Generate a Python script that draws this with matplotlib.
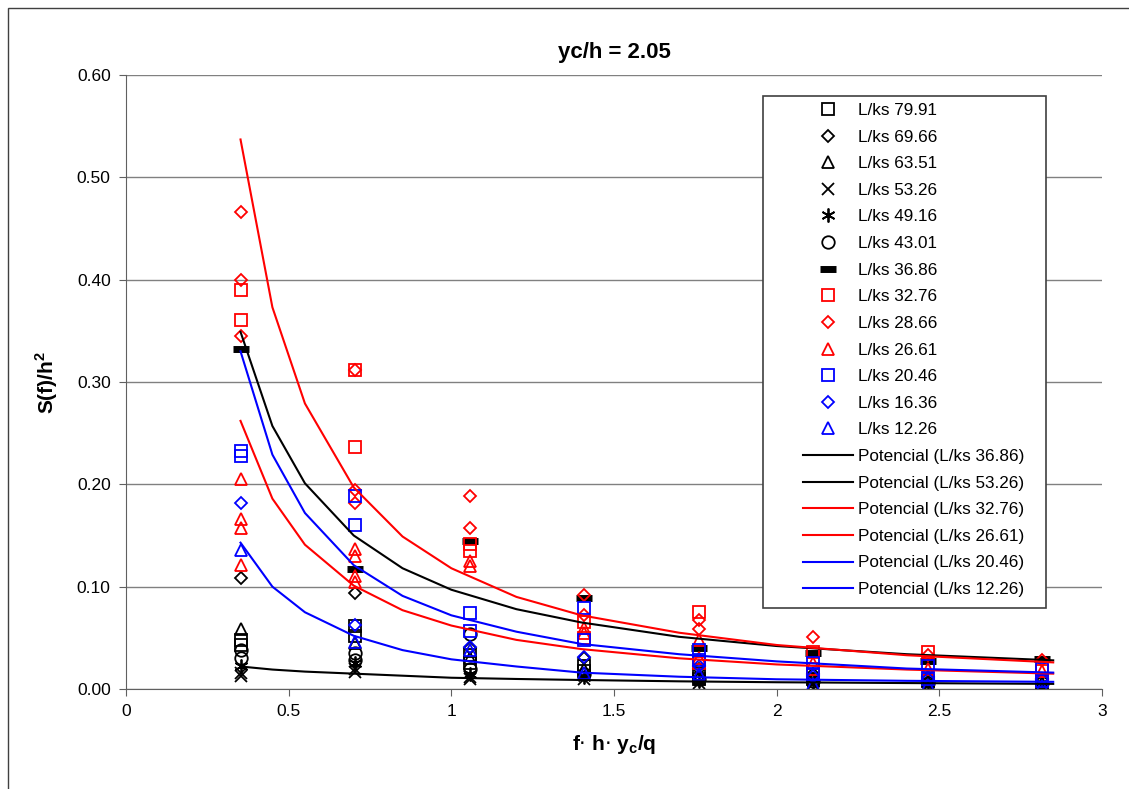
import matplotlib
matplotlib.use("Agg")
import matplotlib.pyplot as plt
from matplotlib.patches import Rectangle

plt.rcParams['font.family'] = ['Liberation Sans', 'DejaVu Sans']

# x positions of the measurement columns
xc = [0.352, 0.704, 1.056, 1.408, 1.76, 2.112, 2.464, 2.816]

# scatter series: (x, y) pairs per flow rate
s7991_x = [xc[0], xc[0], xc[1], xc[1], xc[2], xc[2], xc[3], xc[3], xc[4], xc[4], xc[5], xc[6], xc[7]]
s7991_y = [0.048, 0.043, 0.062, 0.052, 0.033, 0.025, 0.022, 0.018, 0.015, 0.010, 0.010, 0.008, 0.006]

s6966_x = xc
s6966_y = [0.108, 0.094, 0.040, 0.030, 0.020, 0.015, 0.012, 0.010]

s6351_x = xc
s6351_y = [0.059, 0.045, 0.030, 0.020, 0.012, 0.010, 0.008, 0.006]

s5326_x = [xc[0], xc[0], xc[1], xc[1], xc[2], xc[2], xc[3], xc[4], xc[5], xc[6], xc[7]]
s5326_y = [0.016, 0.013, 0.020, 0.017, 0.012, 0.010, 0.010, 0.006, 0.005, 0.004, 0.004]

s4916_x = xc
s4916_y = [0.022, 0.025, 0.015, 0.012, 0.008, 0.006, 0.005, 0.005]

s4301_x = [xc[0], xc[0], xc[1], xc[1], xc[2], xc[2], xc[3], xc[4], xc[5], xc[6], xc[7]]
s4301_y = [0.038, 0.030, 0.035, 0.028, 0.054, 0.020, 0.015, 0.010, 0.008, 0.006, 0.006]

s3686_x = xc
s3686_y = [0.332, 0.117, 0.145, 0.089, 0.040, 0.035, 0.027, 0.029]

s3276_x = [xc[0], xc[0], xc[1], xc[1], xc[2], xc[2], xc[3], xc[3], xc[4], xc[4], xc[5], xc[5], xc[6], xc[7]]
s3276_y = [0.390, 0.361, 0.312, 0.236, 0.142, 0.135, 0.065, 0.050, 0.075, 0.025, 0.036, 0.020, 0.036, 0.018]

s2866_x = [xc[0], xc[0], xc[0], xc[1], xc[1], xc[1], xc[2], xc[2], xc[3], xc[3], xc[4], xc[4], xc[5], xc[6], xc[7]]
s2866_y = [0.466, 0.400, 0.345, 0.312, 0.194, 0.182, 0.189, 0.157, 0.092, 0.072, 0.067, 0.059, 0.051, 0.033, 0.028]

s2661_x = [xc[0], xc[0], xc[0], xc[0], xc[1], xc[1], xc[1], xc[1], xc[2], xc[2], xc[3], xc[3], xc[4], xc[4], xc[5], xc[6], xc[7]]
s2661_y = [0.205, 0.166, 0.157, 0.121, 0.137, 0.130, 0.110, 0.105, 0.125, 0.120, 0.060, 0.055, 0.048, 0.030, 0.025, 0.020, 0.018]

s2046_x = [xc[0], xc[0], xc[1], xc[1], xc[2], xc[2], xc[3], xc[3], xc[4], xc[4], xc[5], xc[5], xc[6], xc[6], xc[7], xc[7]]
s2046_y = [0.233, 0.228, 0.189, 0.160, 0.074, 0.057, 0.079, 0.048, 0.038, 0.028, 0.025, 0.015, 0.022, 0.010, 0.020, 0.008]

s1636_x = xc
s1636_y = [0.182, 0.063, 0.041, 0.031, 0.022, 0.013, 0.010, 0.010]

s1226_x = xc
s1226_y = [0.136, 0.046, 0.038, 0.016, 0.015, 0.005, 0.004, 0.003]

# power trendlines ("Potencial")
trend_x = [0.352, 0.45, 0.55, 0.7, 0.85, 1.0, 1.2, 1.4, 1.7, 2.0, 2.4, 2.85]
trend_3686 = [0.349, 0.257, 0.201, 0.150, 0.118, 0.097, 0.078, 0.065, 0.051, 0.042, 0.034, 0.028]
trend_5326 = [0.022, 0.019, 0.017, 0.015, 0.013, 0.011, 0.0098, 0.0088, 0.0075, 0.0066, 0.0058, 0.005]
trend_3276 = [0.537, 0.373, 0.279, 0.197, 0.149, 0.118, 0.090, 0.072, 0.055, 0.043, 0.033, 0.026]
trend_2661 = [0.262, 0.186, 0.141, 0.101, 0.077, 0.062, 0.048, 0.039, 0.030, 0.024, 0.019, 0.015]
trend_2046 = [0.330, 0.229, 0.172, 0.121, 0.091, 0.072, 0.056, 0.044, 0.034, 0.027, 0.020, 0.016]
trend_1226 = [0.143, 0.100, 0.075, 0.052, 0.038, 0.029, 0.022, 0.016, 0.012, 0.0095, 0.008, 0.007]

W, H = 1129, 789
fig = plt.figure(figsize=(W / 100, H / 100), dpi=100)
ax = fig.add_axes([126 / W, 1 - 689 / H, (1102 - 126) / W, (689 - 75) / H])

# chart area border
fig.patches.append(Rectangle((8 / W, -0.01), 1.0, 1 - 8 / H + 0.01, transform=fig.transFigure,
                             fill=False, edgecolor='#404040', lw=1.0))
# legend box (drawn separately so the entries can sit inset like in Excel)
fig.patches.append(Rectangle((763 / W, 1 - 608 / H), (1046 - 763) / W, (608 - 96) / H,
                             transform=fig.transFigure, facecolor='white', edgecolor='#404040',
                             lw=1.2, zorder=4))

hollow = dict(linestyle='none', mfc='none', mew=1.3)
handles = []
handles += ax.plot(s7991_x, s7991_y, marker='s', ms=9, mec='black', label='L/ks 79.91', **hollow)
handles += ax.plot(s6966_x, s6966_y, marker='D', ms=6.5, mec='black', label='L/ks 69.66', **hollow)
handles += ax.plot(s6351_x, s6351_y, marker='^', ms=9, mec='black', label='L/ks 63.51', **hollow)
handles += ax.plot(s5326_x, s5326_y, marker='x', ms=9, mec='black', label='L/ks 53.26', **hollow)
handles += ax.plot(s4916_x, s4916_y, marker=(6, 2, 0), ms=10, mec='black', label='L/ks 49.16', **hollow)
handles += ax.plot(s4301_x, s4301_y, marker='o', ms=9, mec='black', label='L/ks 43.01', **hollow)
handles += ax.plot(s3686_x, s3686_y, marker='_', ms=11, mec='black', linestyle='none', mew=5,
                   label='L/ks 36.86')
handles += ax.plot(s3276_x, s3276_y, marker='s', ms=9, mec='red', label='L/ks 32.76', **hollow)
handles += ax.plot(s2866_x, s2866_y, marker='D', ms=6.5, mec='red', label='L/ks 28.66', **hollow)
handles += ax.plot(s2661_x, s2661_y, marker='^', ms=9, mec='red', label='L/ks 26.61', **hollow)
handles += ax.plot(s2046_x, s2046_y, marker='s', ms=9, mec='blue', label='L/ks 20.46', **hollow)
handles += ax.plot(s1636_x, s1636_y, marker='D', ms=6.5, mec='blue', label='L/ks 16.36', **hollow)
handles += ax.plot(s1226_x, s1226_y, marker='^', ms=9, mec='blue', label='L/ks 12.26', **hollow)

handles += ax.plot(trend_x, trend_3686, color='black', lw=1.5, label='Potencial (L/ks 36.86)')
handles += ax.plot(trend_x, trend_5326, color='black', lw=1.5, label='Potencial (L/ks 53.26)')
handles += ax.plot(trend_x, trend_3276, color='red', lw=1.5, label='Potencial (L/ks 32.76)')
handles += ax.plot(trend_x, trend_2661, color='red', lw=1.5, label='Potencial (L/ks 26.61)')
handles += ax.plot(trend_x, trend_2046, color='blue', lw=1.5, label='Potencial (L/ks 20.46)')
handles += ax.plot(trend_x, trend_1226, color='blue', lw=1.5, label='Potencial (L/ks 12.26)')

ax.set_xlim(0, 3)
ax.set_ylim(0, 0.6)
ax.set_xticks([0, 0.5, 1, 1.5, 2, 2.5, 3])
ax.set_xticklabels(['0', '0.5', '1', '1.5', '2', '2.5', '3'])
ax.set_yticks([0, 0.1, 0.2, 0.3, 0.4, 0.5, 0.6])
ax.set_yticklabels(['0.00', '0.10', '0.20', '0.30', '0.40', '0.50', '0.60'])
ax.tick_params(labelsize=12.5, direction='out', length=5, color='#606060', pad=6)
ax.yaxis.grid(True, color='#808080', lw=1)
ax.set_axisbelow(True)
for side in ['top', 'right']:
    ax.spines[side].set_visible(False)
for side in ['left', 'bottom']:
    ax.spines[side].set_color('#606060')

ax.set_title('yc/h = 2.05', fontsize=16, fontweight='bold', pad=12)
ax.set_xlabel(r'f$\cdot$ h$\cdot$ y$_\mathregular{c}$/q', fontsize=15, fontweight='bold', labelpad=10)
ax.set_ylabel(r'S(f)/h$^\mathregular{2}$', fontsize=15, fontweight='bold', labelpad=12)

leg = fig.legend(handles=handles, loc='upper left', bbox_to_anchor=(803 / W, 1 - 103 / H),
                 bbox_transform=fig.transFigure, fontsize=12.3, frameon=False,
                 handlelength=2.9, handletextpad=0.3, labelspacing=0.68,
                 borderpad=0, borderaxespad=0)
leg.set_zorder(5)

fig.savefig('out.png', dpi=100)
